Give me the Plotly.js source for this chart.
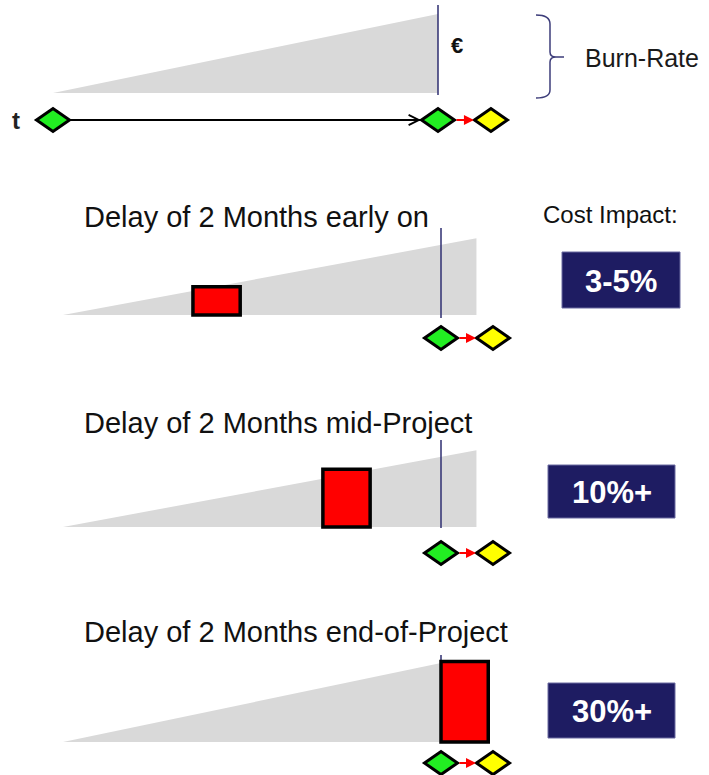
<!DOCTYPE html>
<html><head><meta charset="utf-8">
<script src="https://cdn.plot.ly/plotly-3.0.1.min.js"></script>
<style>html,body{margin:0;padding:0;background:#fff;} #chart{width:709px;height:775px;}</style>
</head><body><div id="chart"></div>
<script>
// ---------------- data ----------------
const panelTitles = ['Delay of 2 Months early on', 'Delay of 2 Months mid-Project', 'Delay of 2 Months end-of-Project'];
const costImpact = ['3-5%', '10%+', '30%+'];
const costHeader = 'Cost Impact:';
const burnLabel = 'Burn-Rate';
const currencyLabel = '€';
const timeLabel = 't';
// burn-rate wedge (months, relative burn rate)
const burnPlanMonths = [0, 16, 16];
const burnPlanRate = [0, 1.0, 0];
const burnLongMonths = [0, 17.5, 17.5];
const burnLongRate = [0, 1.09, 0];
// delays (start month, length in months, extra cost in burn-rate units)
const delayStartMonth = [5.5, 11, 16];
const delayLength = [2, 2, 2];
const delayCost = [0.40, 0.82, 1.02];
// milestones (months)
const startMonth = 0;
const plannedEndMonth = 16;
const delayedEndMonth = 18.2;

// ---------------- layout helpers (positions / styles only) ----------------
const W = 709, H = 775;
const PX = v => v / W, PY = v => 1 - v / H;
const FONT = 'Liberation Sans, Arial, sans-serif';
const GRAY = '#d9d9d9', NAVY = '#1e1c62', LINE_NAVY = '#2e2e70';

const panels = [
  {xa: 'x', ya: 'y', wedgeX: burnPlanMonths, wedgeY: burnPlanRate, deadline: [-0.025, 1.114], msY: -0.342},
  {xa: 'x2', ya: 'y2', wedgeX: burnLongMonths, wedgeY: burnLongRate, deadline: [-0.043, 1.236], msY: -0.327},
  {xa: 'x2', ya: 'y3', wedgeX: burnLongMonths, wedgeY: burnLongRate, deadline: [-0.014, 1.236], msY: -0.369},
  {xa: 'x2', ya: 'y4', wedgeX: burnPlanMonths, wedgeY: burnPlanRate, deadline: [0, 1.10], msY: -0.266}
];

const traces = panels.map(p => ({
  type: 'scatter', mode: 'lines', x: p.wedgeX, y: p.wedgeY, fill: 'toself',
  fillcolor: GRAY, line: {width: 0, color: GRAY}, hoverinfo: 'skip',
  xaxis: p.xa, yaxis: p.ya
}));

const shapes = [];
const annotations = [];
const diamond = (xa, ya, x, y, color) => ({
  type: 'path', xref: xa, yref: ya, xsizemode: 'pixel', ysizemode: 'pixel',
  xanchor: x, yanchor: y, path: 'M-16.5,0L0,11.5L16.5,0L0,-11.5Z',
  fillcolor: color, line: {color: '#000', width: 3}, layer: 'above'
});
const redArrow = (xa, ya, y) => ({
  xref: xa, yref: ya, axref: xa, ayref: ya, x: delayedEndMonth, y: y, ax: plannedEndMonth, ay: y,
  text: '', showarrow: true, arrowhead: 2, arrowsize: 1, arrowwidth: 2, arrowcolor: '#ff0000',
  standoff: 17, startstandoff: 17
});

panels.forEach((p, i) => {
  shapes.push({type: 'line', xref: p.xa, yref: p.ya, x0: plannedEndMonth, x1: plannedEndMonth,
    y0: p.deadline[0], y1: p.deadline[1], line: {color: LINE_NAVY, width: 1.5}, layer: 'above'});
  if (i > 0) {
    const k = i - 1;
    shapes.push({type: 'rect', xref: p.xa, yref: p.ya, x0: delayStartMonth[k], x1: delayStartMonth[k] + delayLength[k],
      y0: 0, y1: delayCost[k], fillcolor: '#ff0000', line: {color: '#000', width: 3.5}, layer: 'above'});
  }
  shapes.push(diamond(p.xa, p.ya, plannedEndMonth, p.msY, '#22ee22'));
  shapes.push(diamond(p.xa, p.ya, delayedEndMonth, p.msY, '#ffff00'));
  annotations.push(redArrow(p.xa, p.ya, p.msY));
});

// time axis in the top panel
const tY = panels[0].msY;
shapes.push({type: 'line', xref: 'x', yref: 'y', x0: -0.75, x1: plannedEndMonth, y0: tY, y1: tY,
  line: {color: '#000', width: 2}, layer: 'below'});
shapes.push(diamond('x', 'y', startMonth, tY, '#22ee22'));
annotations.push({xref: 'x', yref: 'y', axref: 'x', ayref: 'y', x: plannedEndMonth, y: tY, ax: 14.5, ay: tY,
  text: '', showarrow: true, arrowhead: 5, arrowsize: 1, arrowwidth: 2, arrowcolor: '#000', standoff: 17});
annotations.push({xref: 'x', yref: 'y', x: -1.55, y: tY, text: '<b>' + timeLabel + '</b>', showarrow: false,
  font: {family: FONT, size: 24, color: '#222'}, xanchor: 'center', yanchor: 'middle'});
annotations.push({xref: 'paper', yref: 'paper', x: PX(457), y: PY(46), text: '<b>' + currencyLabel + '</b>', showarrow: false,
  font: {family: FONT, size: 22, color: '#111'}, xanchor: 'center', yanchor: 'middle'});

// brace + Burn-Rate label
const bp = [['M', 536, 15], ['Q', 550, 15, 550, 24], ['L', 550, 52], ['Q', 550, 57, 556, 57], ['L', 564, 57],
  ['M', 556, 57], ['Q', 550, 57, 550, 62], ['L', 550, 90], ['Q', 550, 98, 536, 98]];
const bracePath = bp.map(s => s[0] + s.slice(1).map((v, j) => (j % 2 === 0 ? PX(v) : PY(v)).toFixed(5)).join(',')).join(' ');
shapes.push({type: 'path', xref: 'paper', yref: 'paper', path: bracePath, line: {color: '#3d3d7a', width: 1.5}});
annotations.push({xref: 'paper', yref: 'paper', x: PX(642), y: PY(58), text: burnLabel, showarrow: false,
  font: {family: FONT, size: 25, color: '#1a1a1a'}, xanchor: 'center', yanchor: 'middle'});

// panel titles
const titleY = [217, 423, 632];
panelTitles.forEach((t, i) => annotations.push({xref: 'paper', yref: 'paper', x: PX(82), y: PY(titleY[i]), text: t,
  showarrow: false, font: {family: FONT, size: 29, color: '#111'}, xanchor: 'left', yanchor: 'middle'}));

// cost impact
annotations.push({xref: 'paper', yref: 'paper', x: PX(610), y: PY(214), text: costHeader, showarrow: false,
  font: {family: FONT, size: 24, color: '#111'}, xanchor: 'center', yanchor: 'middle'});
const boxes = [[562, 680, 252, 308], [548, 675, 465, 518], [548, 675, 683, 738]];
costImpact.forEach((c, i) => {
  const b = boxes[i];
  shapes.push({type: 'rect', xref: 'paper', yref: 'paper', x0: PX(b[0]), x1: PX(b[1]), y0: PY(b[3]), y1: PY(b[2]),
    fillcolor: NAVY, line: {color: '#6a6aa0', width: 1}});
  annotations.push({xref: 'paper', yref: 'paper', x: PX((b[0] + b[1]) / 2), y: PY((b[2] + b[3]) / 2 + 1), text: '<b>' + c + '</b>',
    showarrow: false, font: {family: FONT, size: 31, color: '#ffffff'}, xanchor: 'center', yanchor: 'middle'});
});

const ax = r => ({domain: [0, 1], range: r, autorange: false, visible: false, fixedrange: true});
const layout = {
  width: W, height: H, margin: {l: 0, r: 0, t: 0, b: 0}, showlegend: false,
  paper_bgcolor: '#fff', plot_bgcolor: 'rgba(0,0,0,0)',
  xaxis: Object.assign(ax([-2.2026, 27.2623]), {anchor: 'y'}),
  xaxis2: Object.assign(ax([-2.6667, 27.3439]), {anchor: 'y2'}),
  yaxis: Object.assign(ax([-8.6329, 1.1772]), {anchor: 'x'}),
  yaxis2: Object.assign(ax([-6.534, 4.4744]), {anchor: 'x2'}),
  yaxis3: Object.assign(ax([-3.5227, 7.4858]), {anchor: 'x2'}),
  yaxis4: Object.assign(ax([-0.4177, 9.3924]), {anchor: 'x2'}),
  shapes: shapes, annotations: annotations
};
Plotly.newPlot('chart', traces, layout, {staticPlot: true, displayModeBar: false});
</script></body></html>
